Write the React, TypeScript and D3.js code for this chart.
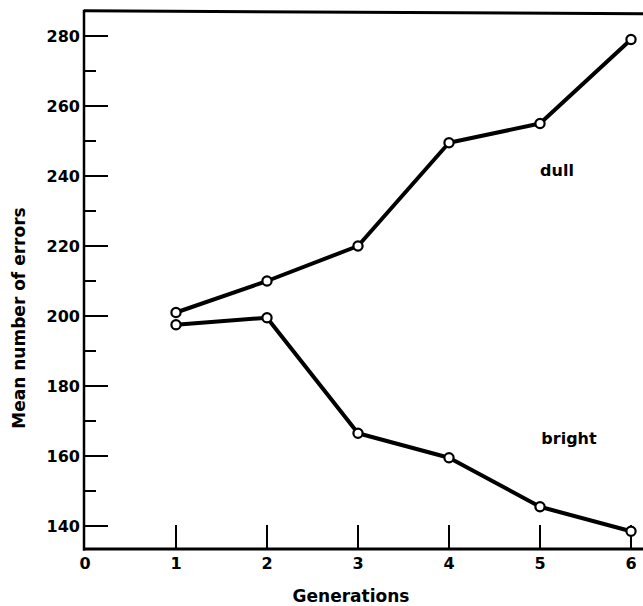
import React from "react";
import * as d3 from "d3";

const generations = [1, 2, 3, 4, 5, 6];
const dullValues = [201, 210, 220, 249.5, 255, 279];
const brightValues = [197.5, 199.5, 166.5, 159.5, 145.5, 138.5];
const yMajorTicks = [140, 160, 180, 200, 220, 240, 260, 280];
const yMinorTicks = [150, 170, 190, 210, 230, 250, 270];
const xTickLabels = [0, 1, 2, 3, 4, 5, 6];
const xTicks = [1, 2, 3, 4, 5, 6];

const W = 643;
const H = 606;
const FONT = "'DejaVu Sans', sans-serif";

export default function App() {
  const x = d3.scaleLinear().domain([0, 6]).range([85, 631]);
  const y = d3.scaleLinear().domain([140, 280]).range([526, 36]);
  const axisX = 84;
  const axisBottom = y(133.4);
  const frameTop = y(287.2);

  const line = d3
    .line<number>()
    .x((_, i) => x(generations[i]))
    .y((d) => y(d));

  const series = [
    { name: "dull", values: dullValues },
    { name: "bright", values: brightValues },
  ];

  return (
    <svg
      width={W}
      height={H}
      style={{ position: "absolute", left: 0, top: 0, background: "#fff" }}
    >
      {/* frame */}
      <line x1={axisX} x2={W} y1={frameTop} y2={frameTop + 3} stroke="#000" strokeWidth={3} />
      <line x1={axisX} x2={axisX} y1={frameTop - 1} y2={axisBottom + 1.5} stroke="#000" strokeWidth={2.5} />
      <line x1={axisX - 1} x2={W} y1={axisBottom} y2={axisBottom} stroke="#000" strokeWidth={3} />

      {/* y ticks */}
      {yMajorTicks.map((t) => (
        <g key={"ym" + t}>
          <line x1={axisX} x2={axisX + 24} y1={y(t)} y2={y(t)} stroke="#000" strokeWidth={2} />
          <text
            x={axisX - 4}
            y={y(t)}
            dy="0.36em"
            textAnchor="end"
            fontFamily={FONT}
            fontWeight="bold"
            fontSize={16}
          >
            {t}
          </text>
        </g>
      ))}
      {yMinorTicks.map((t) => (
        <line key={"yn" + t} x1={axisX} x2={axisX + 12} y1={y(t)} y2={y(t)} stroke="#000" strokeWidth={2} />
      ))}

      {/* x ticks */}
      {xTicks.map((t) => (
        <line key={"xt" + t} x1={x(t)} x2={x(t)} y1={axisBottom} y2={axisBottom - 24} stroke="#000" strokeWidth={2} />
      ))}
      {xTickLabels.map((t) => (
        <text
          key={"xl" + t}
          x={x(t)}
          y={axisBottom + 20}
          textAnchor="middle"
          fontFamily={FONT}
          fontWeight="bold"
          fontSize={16}
        >
          {t}
        </text>
      ))}

      {/* series */}
      {series.map((s) => (
        <g key={s.name}>
          <path d={line(s.values) || ""} fill="none" stroke="#000" strokeWidth={4} strokeLinejoin="round" />
          {s.values.map((v, i) => (
            <circle
              key={i}
              cx={x(generations[i])}
              cy={y(v)}
              r={4.6}
              fill="#fff"
              stroke="#000"
              strokeWidth={2.2}
            />
          ))}
        </g>
      ))}

      {/* series labels */}
      <text x={557} y={176} textAnchor="middle" fontFamily={FONT} fontWeight="bold" fontSize={16}>
        dull
      </text>
      <text x={569} y={444} textAnchor="middle" fontFamily={FONT} fontWeight="bold" fontSize={16}>
        bright
      </text>

      {/* axis titles */}
      <text
        x={351}
        y={602}
        textAnchor="middle"
        fontFamily={FONT}
        fontWeight="bold"
        fontSize={17}
      >
        Generations
      </text>
      <text
        transform={`translate(25, ${318}) rotate(-90)`}
        textAnchor="middle"
        fontFamily={FONT}
        fontWeight="bold"
        fontSize={17}
      >
        Mean number of errors
      </text>
    </svg>
  );
}
